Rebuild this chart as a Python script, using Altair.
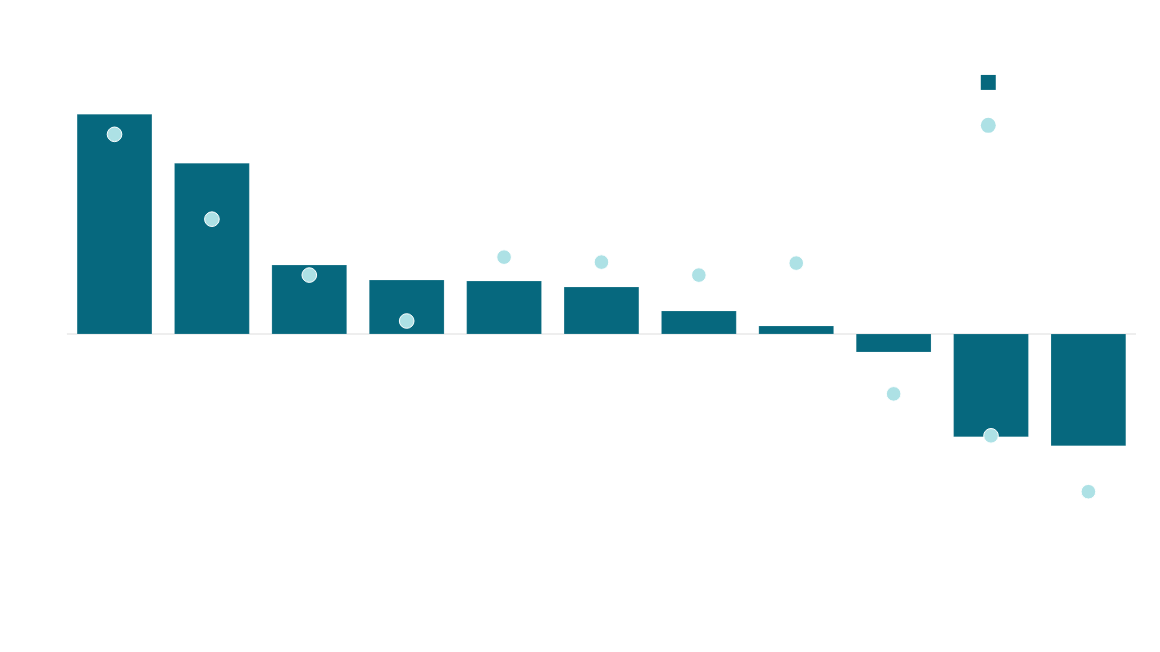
import altair as alt
import pandas as pd

categories = ["A", "B", "C", "D", "E", "F", "G", "H", "I", "J", "K"]
bar_values = [220, 171, 69, 54, 53, 47, 23, 8, -18, -103, -112]
dot_values = [200, 115, 59, 13, 77, 72, 59, 71, -60, -102, -158]
series_names = ["Bars", "Dots"]

BAR_COLOR = "#06687e"
DOT_COLOR = "#ade1e5"

bars_df = pd.DataFrame({"cat": categories, "value": bar_values, "series": series_names[0]})
dots_df = pd.DataFrame({"cat": categories, "value": dot_values, "series": series_names[1]})
zero_df = pd.DataFrame({"value": [0]})

x_enc = alt.X("cat:N", sort=categories, axis=None,
              scale=alt.Scale(paddingInner=0.232, paddingOuter=0.105))
y_scale = alt.Scale(domain=[-286, 314], nice=False, zero=False)

color_scale = alt.Scale(domain=series_names, range=[BAR_COLOR, DOT_COLOR])
legend = alt.Legend(title=None, orient="none", legendX=915.5, legendY=54.5,
                    symbolSize=225, rowPadding=28, labelExpr="''",
                    symbolStrokeWidth=0, symbolOpacity=1)

rule = alt.Chart(zero_df).mark_rule(color="#dddddd", strokeWidth=1).encode(
    y=alt.Y("value:Q", scale=y_scale, axis=None)
)

bars = alt.Chart(bars_df).mark_bar(stroke="#ffffff", strokeWidth=0.3, strokeOpacity=0.5).encode(
    x=x_enc,
    y=alt.Y("value:Q", scale=y_scale, axis=None),
    color=alt.Color("series:N", scale=color_scale, legend=legend),
)

dots = alt.Chart(dots_df).mark_point(filled=True, size=215, opacity=1,
                                     stroke="#ffffff", strokeWidth=1).encode(
    x=x_enc,
    y=alt.Y("value:Q", scale=y_scale, axis=None),
    color=alt.Color("series:N", scale=color_scale, legend=legend),
    shape=alt.Shape("series:N", scale=alt.Scale(domain=series_names, range=["square", "circle"]),
                    legend=legend),
)

chart = alt.layer(rule, bars, dots).properties(
    width=1071, height=600,
    padding={"left": 58, "top": 12, "right": 15, "bottom": 24},
).configure_view(strokeWidth=0)

chart.save("out.html", embed_options={"renderer": "svg", "actions": False})
